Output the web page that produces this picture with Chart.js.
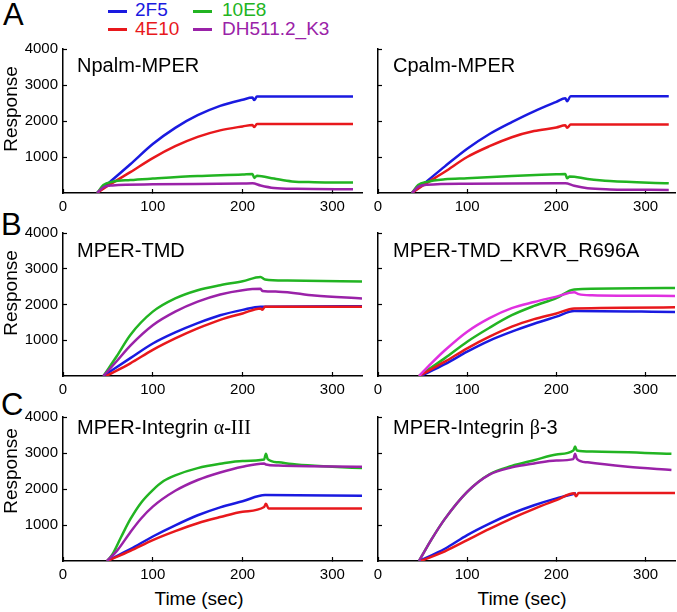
<!DOCTYPE html>
<html>
<head>
<meta charset="utf-8">
<script src="https://cdn.jsdelivr.net/npm/chart.js@4.4.1/dist/chart.umd.min.js"></script>
<style>
body { margin: 0; background: #fff; }
#fig { position: relative; width: 677px; height: 612px; overflow: hidden;
       font-family: "Liberation Sans", Arial, sans-serif; color: #000; }
#fig canvas { position: absolute; }
.t { position: absolute; white-space: nowrap; }
.ptitle { font-size: 20px; line-height: 20px; }
.letter { font-size: 31px; line-height: 31px; }
.leg { font-size: 19px; line-height: 19px; }
.legline { position: absolute; width: 19px; height: 3px; }
.ylab { font-size: 19px; line-height: 19px; transform: translate(-50%, -50%) rotate(-90deg); }
.xlab { font-size: 19px; line-height: 19px; transform: translateX(-50%); }
.serif { font-family: "Liberation Serif", "Times New Roman", serif; }
</style>
</head>
<body>
<div id="fig">
  <!-- legend -->
  <div class="legline" style="left:108px;top:10px;background:#1a1ae0"></div>
  <div class="t leg" style="left:135px;top:0px;color:#1a1ae0">2F5</div>
  <div class="legline" style="left:108px;top:28px;background:#e8181c"></div>
  <div class="t leg" style="left:135px;top:19px;color:#e8181c">4E10</div>
  <div class="legline" style="left:193px;top:10px;background:#22b422"></div>
  <div class="t leg" style="left:222px;top:0px;color:#22b422">10E8</div>
  <div class="legline" style="left:193px;top:28px;background:#9a22a8"></div>
  <div class="t leg" style="left:222px;top:19px;color:#9a22a8">DH511.2_K3</div>

  <div class="t letter" style="left:3px;top:-1px">A</div>
  <div class="t letter" style="left:1px;top:209px">B</div>
  <div class="t letter" style="left:1px;top:389px">C</div>

  <canvas id="pA1" width="366" height="178" style="left:0;top:39px"></canvas>
  <canvas id="pA2" width="309" height="178" style="left:368px;top:39px"></canvas>
  <canvas id="pB1" width="366" height="177" style="left:0;top:223px"></canvas>
  <canvas id="pB2" width="309" height="177" style="left:368px;top:223px"></canvas>
  <canvas id="pC1" width="366" height="178" style="left:0;top:407px"></canvas>
  <canvas id="pC2" width="309" height="178" style="left:368px;top:407px"></canvas>

  <div class="t ptitle" style="left:77px;top:55px">Npalm-MPER</div>
  <div class="t ptitle" style="left:393px;top:55px">Cpalm-MPER</div>
  <div class="t ptitle" style="left:77px;top:240px">MPER-TMD</div>
  <div class="t ptitle" style="left:393px;top:240px">MPER-TMD_KRVR_R696A</div>
  <div class="t ptitle" style="left:77px;top:417px">MPER-Integrin <span class="serif">α-III</span></div>
  <div class="t ptitle" style="left:393px;top:417px">MPER-Integrin <span class="serif">β</span>-3</div>

  <div class="t ylab" style="left:10px;top:109px">Response</div>
  <div class="t ylab" style="left:10px;top:293px">Response</div>
  <div class="t ylab" style="left:10px;top:471px">Response</div>

  <div class="t xlab" style="left:199px;top:589px">Time (sec)</div>
  <div class="t xlab" style="left:522px;top:589px">Time (sec)</div>
</div>
<script>
// axis ticks
const xTicks = [0, 100, 200, 300];
const yTicks = [1000, 2000, 3000, 4000];

const BLUE = '#1a1ae0', RED = '#e8181c', GREEN = '#22b422', PURPLE = '#9a22a8', MAGENTA = '#e030e0';

// [time (sec), response]
// A: Npalm-MPER
const npalm2F5 = [[38,0],[50,260],[75,800],[100,1360],[125,1810],[150,2160],[175,2420],[200,2590],[211,2650],[213,2580],[216,2680],[323,2680]];
const npalm4E10 = [[38,0],[50,200],[75,580],[100,970],[125,1300],[150,1560],[175,1740],[200,1850],[211,1890],[213,1830],[216,1920],[323,1920]];
const npalm10E8 = [[38,0],[45,220],[55,310],[75,360],[100,400],[150,470],[200,515],[211,530],[213,420],[216,480],[235,400],[255,320],[280,300],[323,290]];
const npalmDH511 = [[38,0],[45,160],[55,210],[100,240],[200,265],[211,270],[220,210],[235,140],[260,115],[323,105]];
// A: Cpalm-MPER
const cpalm2F5 = [[38,0],[50,230],[75,740],[100,1230],[125,1640],[150,1970],[175,2270],[200,2530],[210,2630],[212,2550],[216,2690],[326,2690]];
const cpalm4E10 = [[38,0],[50,200],[75,590],[100,1000],[125,1300],[150,1550],[175,1720],[200,1820],[210,1880],[212,1810],[216,1900],[326,1900]];
const cpalm10E8 = [[38,0],[45,220],[55,310],[75,380],[100,410],[150,470],[200,520],[210,530],[212,410],[215,460],[235,390],[260,330],[326,270]];
const cpalmDH511 = [[38,0],[45,170],[55,230],[100,260],[200,270],[210,270],[220,200],[235,130],[260,100],[326,85]];
// B: MPER-TMD
const tmd2F5 = [[45,0],[75,500],[100,910],[125,1220],[150,1480],[175,1700],[200,1850],[220,1940],[333,1950]];
const tmd4E10 = [[48,0],[75,355],[100,730],[125,1050],[150,1330],[175,1570],[200,1750],[220,1890],[222,1850],[225,1940],[333,1940]];
const tmd10E8 = [[45,0],[60,560],[75,1150],[100,1800],[125,2170],[150,2400],[175,2540],[200,2650],[220,2770],[225,2700],[250,2670],[333,2640]];
const tmdDH511 = [[45,0],[60,420],[75,850],[100,1420],[125,1800],[150,2080],[175,2280],[200,2400],[220,2440],[222,2380],[240,2360],[280,2250],[333,2170]];
// B: MPER-TMD_KRVR_R696A
const krvr2F5 = [[48,0],[75,330],[100,680],[125,990],[150,1240],[175,1460],[200,1660],[220,1820],[333,1790]];
const krvr4E10 = [[46,0],[75,400],[100,775],[125,1100],[150,1380],[175,1590],[200,1750],[220,1890],[333,1920]];
const krvr10E8 = [[46,0],[75,500],[100,960],[125,1350],[150,1700],[175,1960],[200,2180],[220,2420],[333,2460]];
const krvrDH511 = [[46,0],[60,360],[75,720],[100,1240],[125,1620],[150,1900],[175,2070],[200,2220],[220,2340],[225,2290],[240,2260],[333,2240]];
// C: MPER-Integrin alpha-III
const alpha2F5 = [[49,0],[75,330],[100,680],[125,990],[150,1270],[175,1490],[200,1660],[225,1830],[333,1815]];
const alpha4E10 = [[49,0],[75,280],[100,580],[125,830],[150,1050],[175,1220],[200,1370],[224,1500],[226,1590],[229,1460],[333,1460]];
const alpha10E8 = [[49,0],[55,180],[65,680],[75,1160],[87,1620],[100,1970],[112,2220],[125,2380],[150,2580],[175,2700],[200,2780],[224,2820],[226,2980],[228,2830],[240,2740],[260,2680],[300,2620],[333,2580]];
const alphaDH511 = [[49,0],[60,280],[75,800],[87,1180],[100,1510],[125,1950],[150,2250],[175,2460],[200,2620],[224,2710],[226,2680],[240,2650],[333,2620]];
// C: MPER-Integrin beta-3
const beta2F5 = [[46,0],[75,340],[100,720],[125,1040],[150,1320],[175,1550],[200,1740],[222,1880]];
const beta4E10 = [[48,0],[75,270],[100,580],[125,890],[150,1185],[175,1450],[200,1690],[220,1880],[222,1800],[225,1890],[333,1890]];
const beta10E8 = [[46,0],[60,600],[75,1170],[100,1920],[125,2410],[150,2640],[175,2800],[200,2960],[219,3070],[221,3180],[223,3070],[240,3040],[329,2980]];
const betaDH511 = [[46,0],[60,600],[75,1170],[100,1920],[125,2400],[150,2600],[175,2710],[200,2790],[219,2830],[221,2980],[223,2840],[235,2740],[280,2620],[329,2530]];

function ds(label, color, pts, order) {
	return {
		label: label,
		data: pts.map(p => ({x: p[0], y: p[1]})),
		borderColor: color,
		order: order
	};
}

function makePanel(id, isLeft, sets) {
	new Chart(document.getElementById(id), {
		type: 'line',
		data: {datasets: sets},
		options: {
			responsive: false,
			animation: false,
			layout: {autoPadding: false, padding: {top: 10, right: isLeft ? 4 : 2, left: 0, bottom: 0}},
			plugins: {legend: {display: false}, tooltip: {enabled: false}},
			elements: {
				point: {radius: 0},
				line: {borderWidth: 2.5, cubicInterpolationMode: 'monotone', fill: false}
			},
			scales: {
				x: {
					type: 'linear', min: 0, max: 333,
					border: {color: '#000', width: 1.5},
					grid: {drawOnChartArea: false, tickLength: -4, tickColor: '#000', tickWidth: 1.2},
					afterBuildTicks: s => { s.ticks = xTicks.map(v => ({value: v})); },
					ticks: {padding: 9, color: '#000', font: {size: 15}, maxRotation: 0, callback: v => String(v)},
					afterFit: s => { s.height = 24; s.paddingLeft = 0; s.paddingRight = 0; }
				},
				y: {
					min: 0, max: 4000,
					border: {color: '#000', width: 1.5},
					grid: {drawOnChartArea: false, tickLength: -4, tickColor: '#000', tickWidth: 1.2},
					afterBuildTicks: s => { s.ticks = yTicks.map(v => ({value: v})); },
					ticks: {display: isLeft, padding: 9, color: '#000', font: {size: 15}, callback: v => String(v)},
					afterFit: s => { s.width = isLeft ? 63 : 10; s.paddingTop = 0; s.paddingBottom = 0; }
				}
			}
		}
	});
}

Chart.defaults.font.family = '"Liberation Sans", Arial, sans-serif';

makePanel('pA1', true, [
	ds('2F5', BLUE, npalm2F5, 3), ds('4E10', RED, npalm4E10, 2),
	ds('10E8', GREEN, npalm10E8, 1), ds('DH511.2_K3', PURPLE, npalmDH511, 0)
]);
makePanel('pA2', false, [
	ds('2F5', BLUE, cpalm2F5, 3), ds('4E10', RED, cpalm4E10, 2),
	ds('10E8', GREEN, cpalm10E8, 1), ds('DH511.2_K3', PURPLE, cpalmDH511, 0)
]);
makePanel('pB1', true, [
	ds('2F5', BLUE, tmd2F5, 2), ds('4E10', RED, tmd4E10, 1),
	ds('10E8', GREEN, tmd10E8, 3), ds('DH511.2_K3', PURPLE, tmdDH511, 0)
]);
makePanel('pB2', false, [
	ds('2F5', BLUE, krvr2F5, 2), ds('4E10', RED, krvr4E10, 1),
	ds('10E8', GREEN, krvr10E8, 3), ds('DH511.2_K3', MAGENTA, krvrDH511, 0)
]);
makePanel('pC1', true, [
	ds('2F5', BLUE, alpha2F5, 2), ds('4E10', RED, alpha4E10, 1),
	ds('10E8', GREEN, alpha10E8, 3), ds('DH511.2_K3', PURPLE, alphaDH511, 0)
]);
makePanel('pC2', false, [
	ds('2F5', BLUE, beta2F5, 2), ds('4E10', RED, beta4E10, 1),
	ds('10E8', GREEN, beta10E8, 3), ds('DH511.2_K3', PURPLE, betaDH511, 0)
]);
</script>
</body>
</html>
